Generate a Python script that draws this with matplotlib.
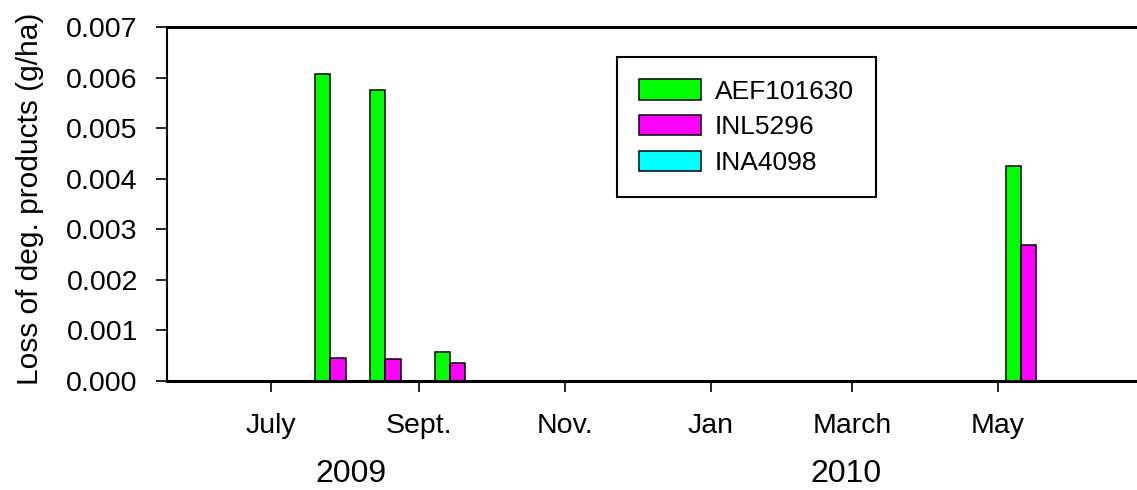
import matplotlib
matplotlib.use("Agg")
import matplotlib.pyplot as plt
import matplotlib.dates as mdates
import numpy as np
import pandas as pd

plt.rcParams['font.family'] = ['Liberation Sans', 'DejaVu Sans']

# ---- data ----
sample_dates = ["2009-07-29", "2009-08-21", "2009-09-17", "2010-05-14"]
series_names = ["AEF101630", "INL5296", "INA4098"]
aef101630 = [0.00607, 0.00576, 0.00058, 0.00426]
inl5296 = [0.00046, 0.00044, 0.00036, 0.00268]
ina4098 = [0.0, 0.0, 0.0, 0.0]
series_colors = ["#00FF00", "#FF00FF", "#00FFFF"]
tick_dates = ["2009-07-01", "2009-09-01", "2009-11-01", "2010-01-01", "2010-03-01", "2010-05-01"]
tick_labels = ["July", "Sept.", "Nov.", "Jan", "March", "May"]
year_labels = ["2009", "2010"]
y_ticks = [0.000, 0.001, 0.002, 0.003, 0.004, 0.005, 0.006, 0.007]
x_limits = ["2009-05-18 12:00", "2010-06-28 06:00"]

W, H = 1137, 490
fig = plt.figure(figsize=(W / 100, H / 100), dpi=100)
ax = fig.add_axes([167 / W, 1 - 381 / H, 1 - 167 / W, (381 - 27) / H])

x = mdates.date2num(pd.to_datetime(sample_dates).to_pydatetime())
bw = 6.4  # days
all_series = [aef101630, inl5296, ina4098]
for i, (vals, name, col) in enumerate(zip(all_series, series_names, series_colors)):
    ax.bar(x + (i - 1) * bw, vals, width=bw, color=col, edgecolor='black',
           linewidth=1.1, label=name, zorder=2)

ax.set_ylim(0, 0.007)
ax.set_yticks(y_ticks)
ax.set_yticklabels([f"{v:.3f}" for v in y_ticks])
xt = mdates.date2num(pd.to_datetime(tick_dates).to_pydatetime())
ax.set_xticks(xt)
ax.set_xticklabels(tick_labels)
xl = mdates.date2num(pd.to_datetime(x_limits).to_pydatetime())
ax.set_xlim(xl[0], xl[1])

ax.spines['right'].set_visible(False)
ax.spines['top'].set_linewidth(2.2)
ax.spines['bottom'].set_linewidth(2.2)
ax.spines['left'].set_linewidth(1.5)
for s in ax.spines.values():
    s.set_zorder(3)
ax.tick_params(axis='y', direction='out', length=8, width=1.2, pad=13, labelsize=20.5)
ax.tick_params(axis='x', direction='out', length=8, width=1.2, pad=15, labelsize=20.5)

fig.text(30 / W, 1 - 199 / H, "Loss of deg. products (g/ha)", rotation=90,
         ha='center', va='center', fontsize=21.5)
fig.text(351 / W, 1 - 474 / H, year_labels[0], ha='center', va='center', fontsize=23)
fig.text(846 / W, 1 - 474 / H, year_labels[1], ha='center', va='center', fontsize=23)

leg = ax.legend(loc='upper left', bbox_to_anchor=(617 / W, 1 - 57 / H),
                bbox_transform=fig.transFigure, fontsize=19, frameon=True,
                fancybox=False, edgecolor='black', framealpha=1,
                handlelength=2.35, handleheight=0.8, handletextpad=0.5,
                labelspacing=0.43, borderpad=0.85, borderaxespad=0)
leg.get_frame().set_linewidth(1.5)

fig.savefig("out.png", dpi=100)
